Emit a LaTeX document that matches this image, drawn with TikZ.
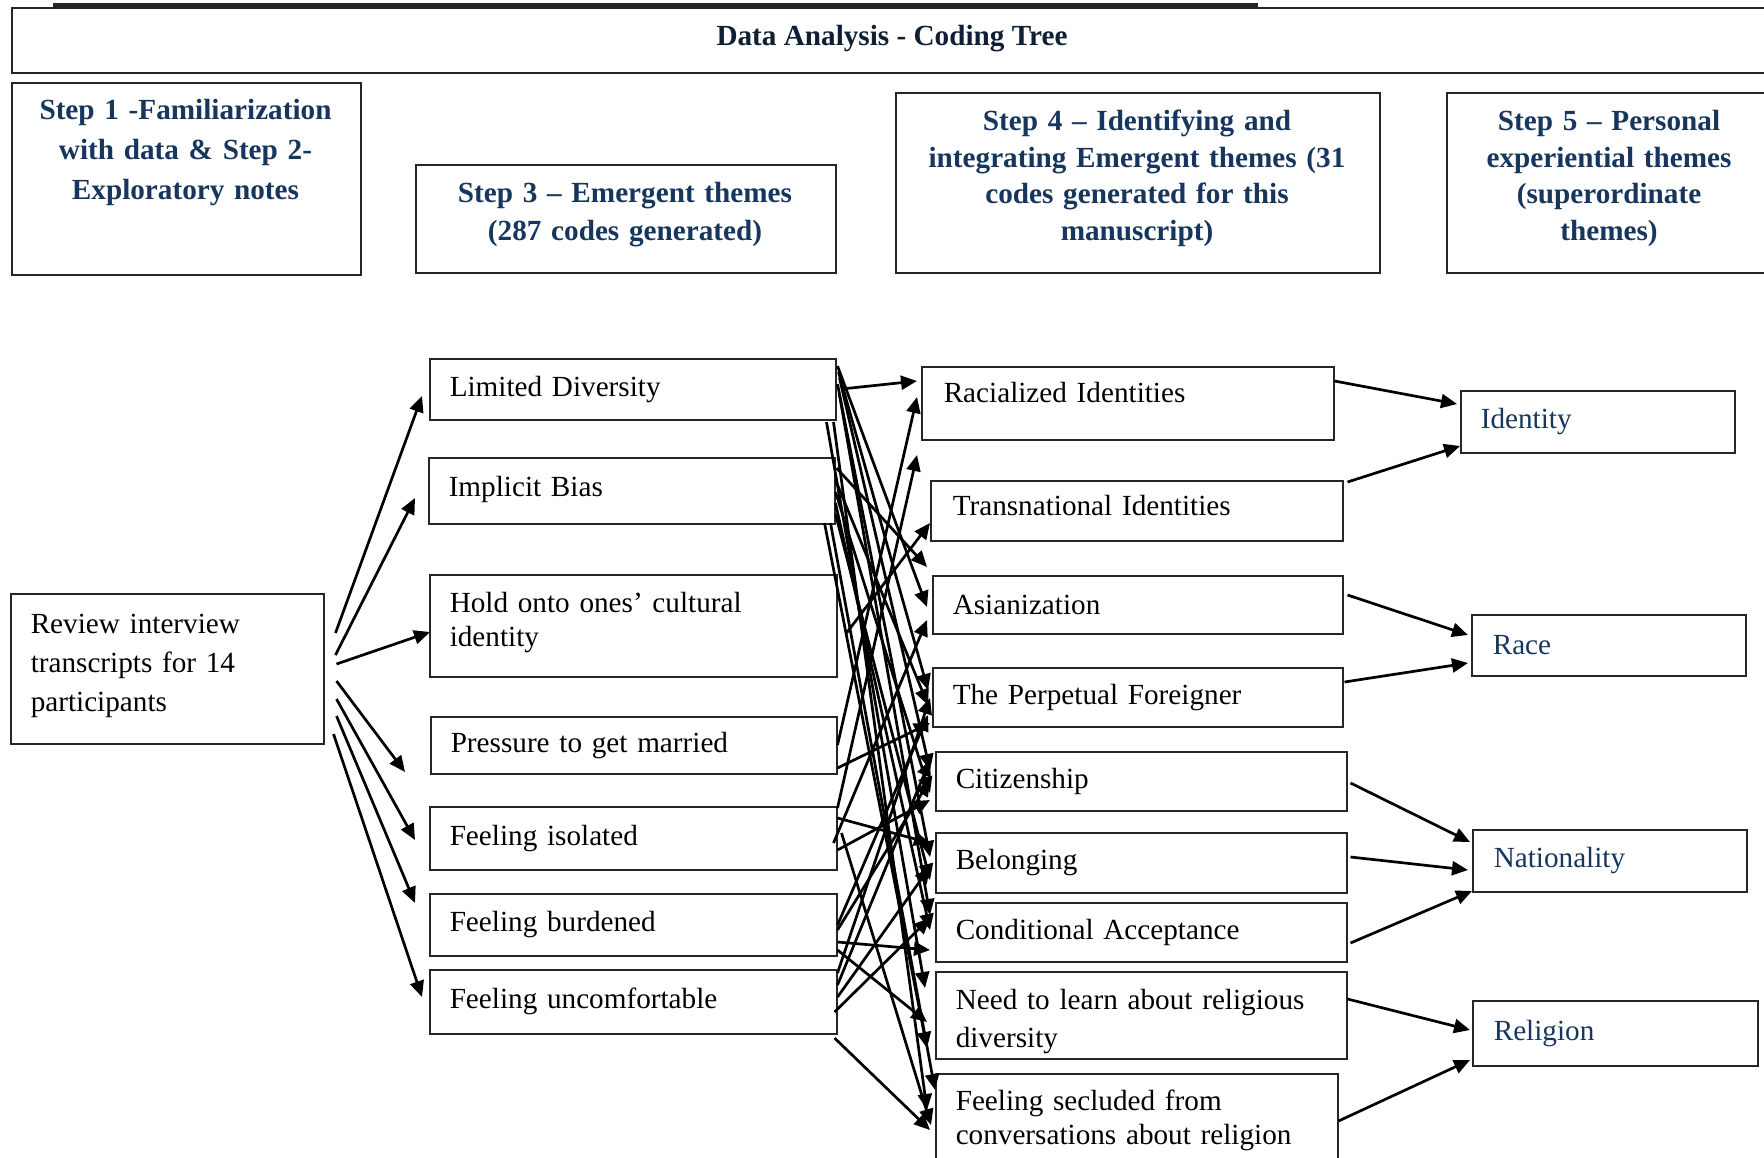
\documentclass[tikz,border=0pt]{standalone}
\usepackage{fontspec}
\setmainfont{Liberation Serif}
\usetikzlibrary{arrows.meta}
\definecolor{navy}{HTML}{17365D}
\definecolor{darknavy}{HTML}{0F2035}
\newcommand\conn[4]{\draw[arr] ([shift={(#2)}]#1.north east) -- ([shift={(#4)}]#3.north west);}
\newcommand\rb[2]{\raisebox{#1}[\height][\depth]{\begin{tabular}{@{}l@{}}#2\end{tabular}}}
\begin{document}
\begin{tikzpicture}[x=0.5pt,y=-0.5pt,
  fnt/.style={font=\fontsize{14.6pt}{#1}\selectfont},
  frame/.style={draw=black!85, line width=0.75pt},
  bx/.style n args={3}{frame, anchor=north west, align=left, inner ysep=0pt, inner xsep=#3, text width=#1, minimum height=#2, fnt=19pt},
  stepbox/.style n args={2}{frame, anchor=north west, inner sep=0pt, minimum width=#1, minimum height=#2},
  steptxt/.style={anchor=base, align=center, text=navy, font=\fontsize{14.6pt}{#1}\selectfont\bfseries, inner sep=0pt, text width=230pt},
  arr/.style={-{Triangle[length=8pt,width=7pt]}, line width=1.35pt, black},
]
\useasboundingbox (0,0) rectangle (1764,1157);
\fill[white] (0,0) rectangle (1764,1157);

% top rule
\draw[line width=2pt, black!85] (53,4.5) -- (1258,4.5);

% title
\node[stepbox={880pt}{32.5pt}] (T) at (11,7) {};
\node[anchor=base, font=\fontsize{14.6pt}{18pt}\selectfont\bfseries, text=darknavy, inner sep=0pt] (Tt) at (892,45.5) {Data Analysis - Coding Tree};

% step headers
\node[stepbox={174.5pt}{96pt}] (S1) at (11,82) {};
\node[steptxt=20pt] (S1t) at (185.5,119.5) {Step 1 -Familiarization\\with data \& Step 2-\\Exploratory notes};
\node[stepbox={210pt}{54pt}] (S3) at (415,164) {};
\node[steptxt=19pt] (S3t) at (625,202.5) {Step 3 – Emergent themes\\(287 codes generated)};
\node[stepbox={242pt}{90pt}] (S4) at (895,92) {};
\node[steptxt=18.25pt] (S4t) at (1137,130.5) {Step 4 – Identifying and\\integrating Emergent themes (31\\codes generated for this\\manuscript)};
\node[stepbox={165pt}{90pt}] (S5) at (1446,92) {};
\node[steptxt=18.25pt] (S5t) at (1609,130.5) {Step 5 – Personal\\experiential themes\\(superordinate\\themes)};

% left box
\node[bx={136.5pt}{75pt}{10pt}, fnt=19.5pt] (Rev) at (10,593) {\rb{2.2pt}{Review interview\\transcripts for 14\\participants}};

% step 3 column
\node[bx={183pt}{30.5pt}{10pt}] (L) at (429,358) {Limited Diversity};
\node[bx={183pt}{33pt}{10pt}] (I) at (428,457) {\rb{0.8pt}{Implicit Bias}};
\node[bx={183.5pt}{51pt}{10pt}, fnt=17pt] (H) at (429,574) {\rb{1.7pt}{Hold onto ones’ cultural\\identity}};
\node[bx={183pt}{28.5pt}{10pt}] (P) at (430,716) {Pressure to get married};
\node[bx={183.5pt}{31.5pt}{10pt}] (FI) at (429,806) {Feeling isolated};
\node[bx={183.5pt}{31pt}{10pt}] (FB) at (429,893) {Feeling burdened};
\node[bx={183.5pt}{32pt}{10pt}] (FU) at (429,969) {Feeling uncomfortable};

% step 4 column
\node[bx={184pt}{36.5pt}{11pt}] (Rac) at (921,366) {\rb{4pt}{Racialized Identities}};
\node[bx={184pt}{30pt}{11pt}] (Tra) at (930,480) {\rb{1.5pt}{Transnational Identities}};
\node[bx={185pt}{29pt}{10pt}] (Asi) at (932,575) {Asianization};
\node[bx={185pt}{29.5pt}{10pt}] (Per) at (932,667) {The Perpetual Foreigner};
\node[bx={185.5pt}{29.5pt}{10pt}] (Cit) at (935,751) {Citizenship};
\node[bx={185.5pt}{30pt}{10pt}] (Bel) at (935,832) {Belonging};
\node[bx={185.5pt}{29.5pt}{10pt}] (Con) at (935,902) {Conditional Acceptance};
\node[bx={185.5pt}{43.5pt}{10pt}] (Nee) at (935,971) {\rb{-2.8pt}{Need to learn about religious\\diversity}};
\node[bx={181pt}{44pt}{10pt}, fnt=17pt] (Sec) at (935,1073) {\rb{-1.7pt}{Feeling secluded from\\conversations about religion}};

% step 5 column
\node[bx={117pt}{31pt}{10pt}, text=navy] (Id) at (1460,390) {Identity};
\node[bx={116pt}{30.5pt}{10.5pt}, text=navy] (Race) at (1471,614) {Race};
\node[bx={116pt}{31pt}{10.5pt}, text=navy] (Nat) at (1472,829) {Nationality};
\node[bx={121.5pt}{32.5pt}{10.5pt}, text=navy] (Rel) at (1472,1000) {Religion};

% review -> step 3
\conn{Rev}{11,40}{L}{-7,38}
\conn{Rev}{11,62}{I}{-13,41}
\conn{Rev}{12,71}{H}{1,58}
\conn{Rev}{12,88}{P}{-25,56}
\conn{Rev}{12,106}{FI}{-14,34}
\conn{Rev}{12,123}{FB}{-14,10}
\conn{Rev}{9,141}{FU}{-7,28}

% step 3 -> step 4
\conn{L}{5,31}{Rac}{-4,15}
\conn{L}{1,8}{Asi}{-5,32}
\conn{L}{2,14}{Per}{-4,23}
\conn{L}{3,20}{Cit}{-5,19}
\conn{L}{1,26}{Bel}{-5,25}
\conn{L}{-10,64}{Nee}{-10,17}
\conn{L}{-3,64}{Sec}{-8,37}
\conn{L}{3,37}{Con}{-5,13}
\conn{I}{1,11}{Asi}{-5,-8}
\conn{I}{0,23}{Per}{-4,38}
\conn{I}{0,35}{Cit}{-5,42}
\conn{I}{0,46}{Con}{-5,28}
\conn{I}{0,57}{Bel}{-5,48}
\conn{I}{-11,66}{Nee}{-8,77}
\conn{I}{-5,66}{Sec}{0,17}
\conn{H}{9,59}{Tra}{0,43}
\conn{P}{0,29}{Rac}{-4,31}
\conn{P}{0,52}{Per}{-2,56}
\conn{FI}{0,2}{Rac}{-4,89}
\conn{FI}{0,12}{Bel}{-5,11}
\conn{FI}{-4,37}{Asi}{-5,45}
\conn{FI}{4,27}{Sec}{-4,52}
\conn{FI}{0,44}{Cit}{-5,49}
\conn{FB}{0,32}{Per}{-4,48}
\conn{FB}{0,49}{Con}{-5,48}
\conn{FB}{0,37}{Cit}{-5,29}
\conn{FB}{0,57}{Nee}{-8,51}
\conn{FU}{0,4}{Per}{-2,31}
\conn{FU}{0,28}{Bel}{-5,35}
\conn{FU}{-3,43}{Con}{-5,16}
\conn{FU}{-3,69}{Sec}{-5,57}
\conn{FU}{0,16}{Cit}{-5,9}

% step 4 -> step 5
\conn{Rac}{0,15}{Id}{-3,14}
\conn{Tra}{4,2}{Id}{0,56}
\conn{Asi}{4,20}{Race}{-3,21}
\conn{Per}{1,15}{Race}{-3,49}
\conn{Cit}{3,32}{Nat}{-2,13}
\conn{Bel}{3,25}{Nat}{-4,41}
\conn{Con}{3,41}{Nat}{0,62}
\conn{Nee}{0,28}{Rel}{-2,30}
\conn{Sec}{0,48}{Rel}{-2,60}
\end{tikzpicture}
\end{document}
